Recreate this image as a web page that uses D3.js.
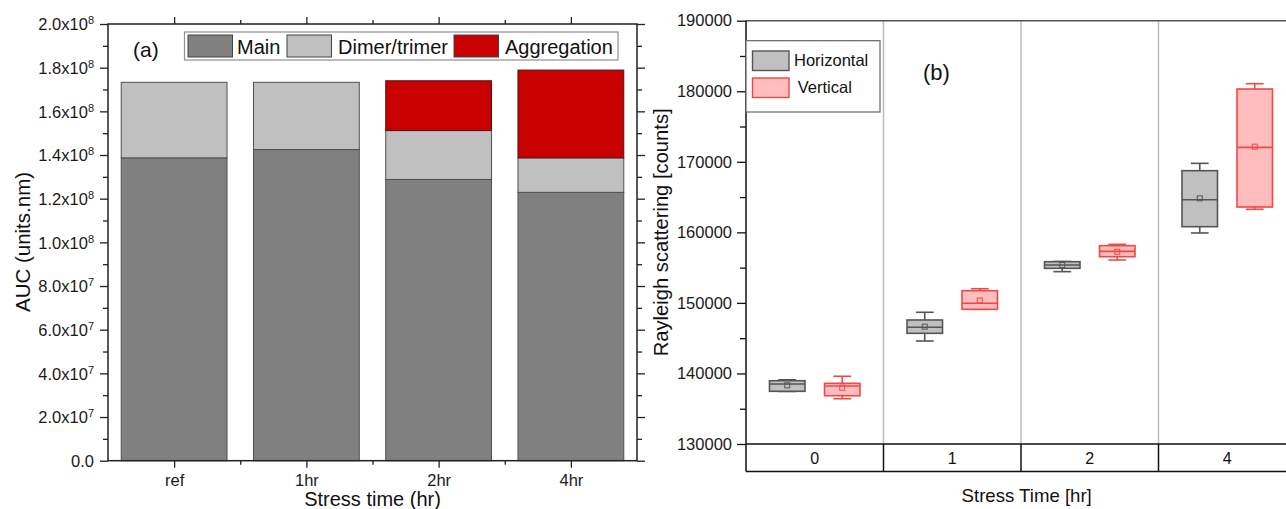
<!DOCTYPE html>
<html>
<head>
<meta charset="utf-8">
<script src="https://cdn.jsdelivr.net/npm/d3@7"></script>
<style>
  html, body { margin: 0; padding: 0; background: #fff; }
  svg { display: block; font-family: "Liberation Sans", Arial, sans-serif; }
</style>
</head>
<body>
<svg id="chart" width="1286" height="509"></svg>
<script>
// ---------- Data: panel (a) ----------
const categoriesA = ["ref", "1hr", "2hr", "4hr"];
const seriesNamesA = ["Main", "Dimer/trimer", "Aggregation"];
const mainAUC = [1.387e8, 1.425e8, 1.288e8, 1.229e8];
const dimerAUC = [0.346e8, 0.308e8, 0.224e8, 0.158e8];
const aggregationAUC = [0, 0, 0.228e8, 0.402e8];
const yTicksA = [0, 2e7, 4e7, 6e7, 8e7, 1e8, 1.2e8, 1.4e8, 1.6e8, 1.8e8, 2e8];

// ---------- Data: panel (b) ----------
const timesB = ["0", "1", "2", "4"];
const seriesNamesB = ["Horizontal", "Vertical"];
// each row: [min, q1, median, q3, max, mean]
const horizontalStats = [
  [137450, 137470, 138500, 138970, 139100, 138320],
  [144600, 145690, 146540, 147580, 148670, 146630],
  [154430, 154900, 155370, 155840, 155870, 155370],
  [159910, 160800, 164630, 168740, 169780, 164820]
];
const verticalStats = [
  [136420, 136840, 138220, 138600, 139600, 137980],
  [149090, 149090, 149940, 151730, 152010, 150340],
  [156080, 156550, 157300, 158110, 158300, 157250],
  [163270, 163590, 172050, 180320, 181070, 172140]
];
const yTicksB = [130000, 140000, 150000, 160000, 170000, 180000, 190000];

const svg = d3.select("#chart");
const FONT = "'Liberation Sans', Arial, sans-serif";

// =================== Panel (a) ===================
(function () {
  const L = 108, R = 637, T = 24, B = 460.7;
  const x = d3.scaleBand().domain(categoriesA).range([L, R]).paddingInner(0.2).paddingOuter(0.1);
  const y = d3.scaleLinear().domain([0, 2e8]).range([B, T]);
  const colors = ["#808080", "#c0c0c0", "#c80000"];
  const g = svg.append("g");

  const stackData = categoriesA.map((c, i) => ({cat: c, Main: mainAUC[i], "Dimer/trimer": dimerAUC[i], Aggregation: aggregationAUC[i]}));
  const stacked = d3.stack().keys(seriesNamesA)(stackData);

  stacked.forEach((layer, li) => {
    g.append("g").selectAll("rect").data(layer.filter(d => d[1] - d[0] > 0)).join("rect")
      .attr("x", d => x(d.data.cat))
      .attr("width", x.bandwidth())
      .attr("y", d => y(d[1]))
      .attr("height", d => y(d[0]) - y(d[1]))
      .attr("fill", colors[li])
      .attr("stroke", li === 2 ? "#5a1010" : "#505050")
      .attr("stroke-width", 1);
  });

  // y axis major with superscript labels
  const fmt = v => {
    if (v === 0) return null;
    const e = Math.floor(Math.log10(v));
    return [(v / Math.pow(10, e)).toFixed(1) + "x10", String(e)];
  };
  const yAxis = d3.axisLeft(y).tickValues(yTicksA).tickSize(8).tickPadding(6).tickFormat("");
  const yg = g.append("g").attr("transform", `translate(${L},0)`).call(yAxis);
  yg.selectAll(".tick text").each(function (d) {
    const t = d3.select(this);
    t.text(null).attr("font-size", 16.5).attr("font-family", FONT).attr("fill", "#1a1a1a").attr("dy", "0.36em");
    const f = fmt(d);
    if (!f) { t.text("0.0"); return; }
    t.append("tspan").text(f[0]);
    t.append("tspan").text(f[1]).attr("font-size", 11).attr("dy", "-0.55em");
  });
  // minor ticks
  const minor = d3.range(1e7, 2e8, 2e7);
  const yMinor = d3.axisLeft(y).tickValues(minor).tickSize(5).tickFormat("");
  g.append("g").attr("transform", `translate(${L},0)`).call(yMinor);
  // right axis
  g.append("g").attr("transform", `translate(${R},0)`).call(d3.axisRight(y).tickValues(yTicksA).tickSize(8).tickFormat(""));
  g.append("g").attr("transform", `translate(${R},0)`).call(d3.axisRight(y).tickValues(minor).tickSize(5).tickFormat(""));

  // x axis bottom & top
  const centers = d3.scalePoint().domain(categoriesA).range([L, R]).padding(0.5);
  const xAxis = d3.axisBottom(centers).tickSize(7).tickPadding(7);
  const xg = g.append("g").attr("transform", `translate(0,${B})`).call(xAxis);
  xg.selectAll(".tick text").attr("font-size", 16.5).attr("font-family", FONT).attr("fill", "#1a1a1a");
  const step = centers.step();
  const minorX = categoriesA.slice(0, -1).map(c => centers(c) + step / 2);
  const xMinorScale = d3.scaleLinear().domain([L, R]).range([L, R]);
  g.append("g").attr("transform", `translate(0,${B})`).call(d3.axisBottom(xMinorScale).tickValues(minorX).tickSize(4).tickFormat(""));
  g.append("g").attr("transform", `translate(0,${T})`).call(d3.axisTop(centers).tickSize(7).tickFormat(""));
  g.append("g").attr("transform", `translate(0,${T})`).call(d3.axisTop(xMinorScale).tickValues(minorX).tickSize(4).tickFormat(""));

  g.selectAll(".domain").attr("stroke", "#222").attr("stroke-width", 1.5);
  g.selectAll(".tick line").attr("stroke", "#222").attr("stroke-width", 1.3);
  // hide outer domain caps: redraw clean frame
  g.selectAll(".domain").remove();
  g.append("rect").attr("x", L).attr("y", T).attr("width", R - L).attr("height", B - T)
    .attr("fill", "none").attr("stroke", "#222").attr("stroke-width", 1.5);

  // legend
  const lg = g.append("g");
  lg.append("rect").attr("x", 184.5).attr("y", 32).attr("width", 433.5).attr("height", 28)
    .attr("fill", "#fff").attr("stroke", "#909090").attr("stroke-width", 1.2);
  const legItems = [
    {name: seriesNamesA[0], sx: 188, tx: 237},
    {name: seriesNamesA[1], sx: 287, tx: 338},
    {name: seriesNamesA[2], sx: 454, tx: 505}
  ];
  legItems.forEach((it, i) => {
    lg.append("rect").attr("x", it.sx).attr("y", 35).attr("width", 44.5).attr("height", 22)
      .attr("fill", colors[i]).attr("stroke", "#444").attr("stroke-width", 1);
    lg.append("text").attr("x", it.tx).attr("y", 53.5).text(it.name)
      .attr("font-size", 20).attr("font-family", FONT).attr("fill", "#111");
  });

  g.append("text").attr("x", 133).attr("y", 57).text("(a)").attr("font-size", 21).attr("font-family", FONT).attr("fill", "#111");

  g.append("text").attr("transform", "translate(30,242) rotate(-90)").attr("text-anchor", "middle")
    .text("AUC (units.nm)").attr("font-size", 20.5).attr("font-family", FONT).attr("fill", "#111");
  g.append("text").attr("x", (L + R) / 2).attr("y", 506).attr("text-anchor", "middle")
    .text("Stress time (hr)").attr("font-size", 20).attr("font-family", FONT).attr("fill", "#111");
})();

// =================== Panel (b) ===================
(function () {
  const L = 746, R = 1296, T = 20.7, B = 444, B2 = 471.5;
  const x = d3.scaleBand().domain(timesB).range([L, R]).padding(0);
  const inner = d3.scalePoint().domain(seriesNamesB).range([0, x.bandwidth()]).padding(0.75);
  const y = d3.scaleLinear().domain([130000, 190000]).range([B, T]);
  const g = svg.append("g");
  const boxW = 35.5;

  // vertical separators (gray)
  g.append("g").selectAll("line").data(timesB.slice(1)).join("line")
    .attr("x1", d => x(d)).attr("x2", d => x(d)).attr("y1", T).attr("y2", B)
    .attr("stroke", "#bdbdbd").attr("stroke-width", 1.5);

  // top line
  g.append("line").attr("x1", L).attr("x2", 1286).attr("y1", T).attr("y2", T).attr("stroke", "#555").attr("stroke-width", 1.5);

  // bottom table row
  g.append("line").attr("x1", L).attr("x2", 1286).attr("y1", B).attr("y2", B).attr("stroke", "#111").attr("stroke-width", 1.5);
  g.append("line").attr("x1", L).attr("x2", 1286).attr("y1", B2).attr("y2", B2).attr("stroke", "#111").attr("stroke-width", 1.5);
  g.append("g").selectAll("line").data(timesB.slice(1)).join("line")
    .attr("x1", d => x(d)).attr("x2", d => x(d)).attr("y1", B).attr("y2", B2)
    .attr("stroke", "#111").attr("stroke-width", 1.5);
  g.append("g").selectAll("text").data(timesB).join("text")
    .attr("x", d => x(d) + x.bandwidth() / 2).attr("y", (B + B2) / 2).attr("dy", "0.36em")
    .attr("text-anchor", "middle").text(d => d)
    .attr("font-size", 16).attr("font-family", FONT).attr("fill", "#111");

  // y axis
  const ya = g.append("g").attr("transform", `translate(${L},0)`)
    .call(d3.axisLeft(y).tickValues(yTicksB).tickSize(9).tickPadding(5).tickFormat(d3.format("d")));
  ya.selectAll(".tick text").attr("font-size", 16.5).attr("font-family", FONT).attr("fill", "#1a1a1a");
  const minorB = d3.range(135000, 190000, 10000);
  g.append("g").attr("transform", `translate(${L},0)`).call(d3.axisLeft(y).tickValues(minorB).tickSize(6).tickFormat(""));
  g.selectAll(".tick line").attr("stroke", "#111").attr("stroke-width", 1.3);
  g.selectAll(".domain").remove();
  g.append("line").attr("x1", L).attr("x2", L).attr("y1", T).attr("y2", B2).attr("stroke", "#111").attr("stroke-width", 1.5);

  // boxes
  const styles = {
    Horizontal: {fill: "#c0c0c0", stroke: "#555"},
    Vertical: {fill: "#ffbdbd", stroke: "#f04848"}
  };
  const draw = (stats, name) => {
    const st = styles[name];
    stats.forEach((s, i) => {
      const cx = x(timesB[i]) + inner(name);
      const [mn, q1, md, q3, mx, mean] = s;
      const bg = g.append("g").attr("stroke", st.stroke).attr("stroke-width", 1.6).attr("fill", "none");
      // whiskers
      bg.append("line").attr("x1", cx).attr("x2", cx).attr("y1", y(mx)).attr("y2", y(q3));
      bg.append("line").attr("x1", cx).attr("x2", cx).attr("y1", y(q1)).attr("y2", y(mn));
      bg.append("line").attr("x1", cx - boxW / 4).attr("x2", cx + boxW / 4).attr("y1", y(mx)).attr("y2", y(mx));
      bg.append("line").attr("x1", cx - boxW / 4).attr("x2", cx + boxW / 4).attr("y1", y(mn)).attr("y2", y(mn));
      bg.append("rect").attr("x", cx - boxW / 2).attr("width", boxW)
        .attr("y", y(q3)).attr("height", y(q1) - y(q3)).attr("fill", st.fill);
      bg.append("line").attr("x1", cx - boxW / 2).attr("x2", cx + boxW / 2).attr("y1", y(md)).attr("y2", y(md));
      bg.append("rect").attr("x", cx - 2.5).attr("y", y(mean) - 2.5).attr("width", 5).attr("height", 5)
        .attr("stroke-width", 1);
    });
  };
  draw(horizontalStats, "Horizontal");
  draw(verticalStats, "Vertical");

  // legend
  g.append("rect").attr("x", L).attr("y", 40.7).attr("width", 134).attr("height", 71.3)
    .attr("fill", "#fff").attr("stroke", "#666").attr("stroke-width", 1.2);
  const legY = [51, 78];
  const legTx = [794, 797.7];
  seriesNamesB.forEach((n, i) => {
    g.append("rect").attr("x", 752.5).attr("y", legY[i]).attr("width", 36.5).attr("height", 19.5)
      .attr("fill", styles[n].fill).attr("stroke", styles[n].stroke).attr("stroke-width", 1.4);
    g.append("text").attr("x", legTx[i]).attr("y", legY[i] + 15).text(n)
      .attr("font-size", 16.5).attr("font-family", FONT).attr("fill", "#111");
  });

  g.append("text").attr("x", 923).attr("y", 80).text("(b)").attr("font-size", 22).attr("font-family", FONT).attr("fill", "#111");

  g.append("text").attr("transform", `translate(668,${(T + B) / 2}) rotate(-90)`).attr("text-anchor", "middle")
    .text("Rayleigh scattering [counts]").attr("font-size", 20.2).attr("font-family", FONT).attr("fill", "#111");
  g.append("text").attr("x", 1026.7).attr("y", 501.7).attr("text-anchor", "middle")
    .text("Stress Time [hr]").attr("font-size", 18.6).attr("font-family", FONT).attr("fill", "#111");
})();
</script>
</body>
</html>
